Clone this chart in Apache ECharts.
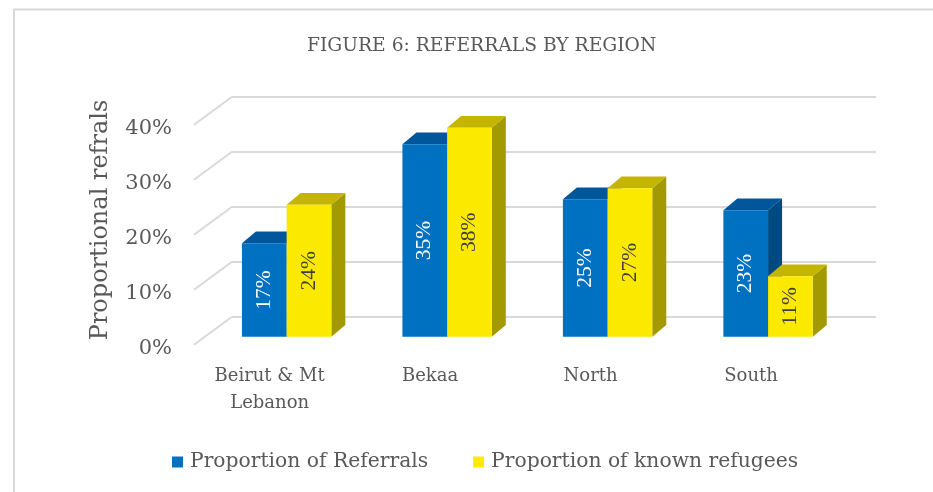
<!DOCTYPE html>
<html>
<head>
<meta charset="utf-8">
<script src="https://cdn.jsdelivr.net/npm/echarts@6/dist/echarts.min.js"></script>
<style>html,body{margin:0;padding:0;background:#fff}#c{width:933px;height:492px}</style>
</head>
<body>
<div id="c"></div>
<script>
const categories = ['Beirut & Mt\nLebanon', 'Bekaa', 'North', 'South'];
const referrals = [17, 35, 25, 23];
const refugees = [24, 38, 27, 11];
const yTicks = [0, 10, 20, 30, 40];
const seriesNames = ['Proportion of Referrals', 'Proportion of known refugees'];

const serif = '"DejaVu Serif", "Liberation Serif", serif';
const txt = '#595959';
const gridCol = '#D9D9D9';
const DX = 14, DY = -11.7;

function make3D(side, colors, labelColor) {
  return function (params, api) {
    const ci = api.value(0), v = api.value(1);
    const base = api.coord([ci, 0]);
    const top = api.coord([ci, v]);
    const band = api.size([1, 0])[0];
    const w = band * 0.2785;
    const x0 = side === 0 ? base[0] - w : base[0];
    const x1 = x0 + w;
    const yb = base[1], yt = top[1];
    return {
      type: 'group',
      children: [
        { type: 'polygon', shape: { points: [[x1, yb], [x1 + DX, yb + DY], [x1 + DX, yt + DY], [x1, yt]] }, style: { fill: colors.side } },
        { type: 'polygon', shape: { points: [[x0, yt], [x1, yt], [x1 + DX, yt + DY], [x0 + DX, yt + DY]] }, style: { fill: colors.top } },
        { type: 'rect', shape: { x: x0, y: yt, width: w, height: yb - yt }, style: { fill: colors.front } },
        { type: 'text', x: (x0 + x1) / 2, y: (yt + yb) / 2, rotation: Math.PI / 2,
          style: { text: v + '%', align: 'center', verticalAlign: 'middle', fill: labelColor, fontSize: 21.5, fontFamily: '"Liberation Serif", serif' } }
      ]
    };
  };
}

const chart = echarts.init(document.getElementById('c'), null, { renderer: 'canvas' });
chart.setOption({
  backgroundColor: '#fff',
  animation: false,
  title: {
    text: 'FIGURE 6: REFERRALS BY REGION',
    left: 307, top: 37, padding: 0,
    textStyle: { fontFamily: serif, fontSize: 18.7, fontWeight: 'normal', color: txt }
  },
  graphic: [
    { type: 'rect', shape: { x: 14, y: 9.5, width: 940, height: 500 }, style: { fill: 'none', stroke: gridCol, lineWidth: 2 }, silent: true }
  ],
  legend: {
    data: seriesNames,
    left: 172, top: 452, padding: 0,
    itemWidth: 11, itemHeight: 11, itemGap: 45,
    icon: 'rect',
    textStyle: { fontFamily: serif, fontSize: 20.3, color: txt, padding: [0, 0, 0, 2] }
  },
  grid: [
    { left: 232, right: 57, top: 96.7, height: 220 },
    { left: 194, right: 57, top: 129, height: 220 },
    { left: 206.4, right: 84.7, top: 116.7, height: 220 }
  ],
  xAxis: [
    { type: 'value', gridIndex: 0, min: 0, max: 1, show: false },
    { type: 'value', gridIndex: 1, min: 0, max: 1, show: false },
    { type: 'category', gridIndex: 2, data: categories,
      axisLine: { show: false }, axisTick: { show: false },
      axisLabel: { margin: 26, fontFamily: serif, fontSize: 18, lineHeight: 27, color: txt, padding: [0, 34, 0, 0], interval: 0 } }
  ],
  yAxis: [
    { type: 'value', gridIndex: 0, min: 0, max: 40, interval: 10,
      axisLine: { show: false }, axisTick: { show: false }, axisLabel: { show: false },
      splitLine: { show: true, lineStyle: { color: gridCol, width: 2 } } },
    { type: 'value', gridIndex: 1, min: 0, max: 40, interval: 10,
      axisLine: { show: false }, axisTick: { show: false }, splitLine: { show: false },
      axisLabel: { margin: 22, formatter: '{value}%', fontFamily: serif, fontSize: 21, color: txt },
      name: 'Proportional refrals', nameLocation: 'middle', nameGap: 81,
      nameTextStyle: { fontFamily: serif, fontSize: 24, color: txt, padding: [0, 0, 0, 38] } },
    { type: 'value', gridIndex: 2, min: 0, max: 40, interval: 10, show: false }
  ],
  series: [
    {
      type: 'custom', xAxisIndex: 0, yAxisIndex: 0, silent: true,
      data: yTicks.map(t => [0, t]),
      renderItem: function (params, api) {
        const p = api.coord([0, api.value(1)]);
        return { type: 'line', shape: { x1: p[0], y1: p[1], x2: p[0] - 38, y2: p[1] + 28 },
          style: { stroke: gridCol, lineWidth: 2 } };
      }
    },
    {
      name: seriesNames[0], type: 'custom', xAxisIndex: 2, yAxisIndex: 2,
      itemStyle: { color: '#0070C0' },
      encode: { x: 0, y: 1 },
      data: referrals.map((v, i) => [i, v]),
      renderItem: make3D(0, { front: '#0070C0', top: '#00569A', side: '#004A80' }, '#FFFFFF')
    },
    {
      name: seriesNames[1], type: 'custom', xAxisIndex: 2, yAxisIndex: 2,
      itemStyle: { color: '#FFEB00' },
      encode: { x: 0, y: 1 },
      data: refugees.map((v, i) => [i, v]),
      renderItem: make3D(1, { front: '#FBE900', top: '#C4B600', side: '#A39900' }, '#404040')
    }
  ]
});
</script>
</body>
</html>
